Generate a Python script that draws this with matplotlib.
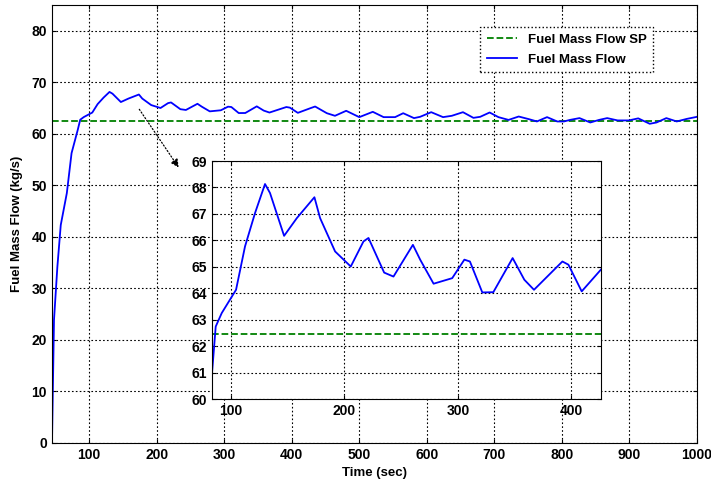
import matplotlib.pyplot as plt

plt.rcParams['font.family'] = ['Liberation Sans', 'DejaVu Sans']
plt.rcParams['font.weight'] = 'bold'

# time (sec) and fuel mass flow (kg/s)
time = [45, 48, 53, 58, 67, 74, 83.3, 86.8, 92.1, 104.7, 112.6, 121.4, 130.2,
        134.6, 147, 158.2, 173.7, 178.7, 191.9, 205.7, 216.9, 221.3, 235.1,
        243.3, 260.4, 266.8, 278.6, 295, 305.7, 310.6, 321.5, 331.2, 348.2,
        358.5, 367, 392, 397.3, 409, 427.5, 434.6, 452, 464, 480.6, 500, 520,
        536, 553, 565, 581, 590, 606.5, 624, 637, 653.5, 669, 679, 693, 706,
        721, 736, 751, 763, 778, 793, 803, 812, 826, 842, 855, 867, 882.5,
        899, 913, 930, 940, 954.6, 970, 985, 1000]
flow = [0, 23.9, 34.2, 42.3, 48.5, 56.25, 60.84, 62.74, 63.25, 64.13, 65.77,
        67.03, 68.13, 67.79, 66.17, 66.84, 67.63, 66.84, 65.58, 65.01, 65.96,
        66.09, 64.78, 64.63, 65.83, 65.27, 64.36, 64.57, 65.27, 65.2, 64.03,
        64.04, 65.33, 64.51, 64.13, 65.2, 65.08, 64.07, 64.97, 65.3, 64.0,
        63.5, 64.47, 63.24, 64.27, 63.24, 63.24, 64.0, 63.05, 63.3, 64.2,
        63.24, 63.5, 64.2, 63.1, 63.3, 64.14, 63.24, 62.7, 63.36, 62.85, 62.4,
        63.24, 62.4, 62.4, 62.7, 63.05, 62.2, 62.7, 63.05, 62.6, 62.6, 63.0,
        61.95, 62.2, 63.05, 62.4, 62.9, 63.3]
setpoint = 62.45

main_xticks = [100, 200, 300, 400, 500, 600, 700, 800, 900, 1000]
main_yticks = [0, 10, 20, 30, 40, 50, 60, 70, 80]
inset_xticks = [100, 200, 300, 400]
inset_yticks = [60, 61, 62, 63, 64, 65, 66, 67, 68, 69]

blue = (0, 0, 1)
green = (0, 0.5, 0)

fig = plt.figure(figsize=(7.11, 4.86), dpi=100)
ax = fig.add_axes([0.0731, 0.0885, 0.9072, 0.9012])

ax.axhline(setpoint, color=green, ls='--', lw=1.3, label='Fuel Mass Flow SP')
ax.plot(time, flow, color=blue, lw=1.3, label='Fuel Mass Flow')
ax.set_xlim(45, 1000)
ax.set_ylim(0, 85)
ax.set_xticks(main_xticks)
ax.set_yticks(main_yticks)
ax.grid(True, color='black', ls=(0, (1.5, 2)), lw=0.8)
ax.tick_params(direction='in', top=True, right=True, length=3, labelsize=10)
for lab in ax.get_xticklabels() + ax.get_yticklabels():
    lab.set_fontweight('bold')
ax.set_xlabel('Time (sec)', fontsize=9.5, fontweight='bold', labelpad=4)
ax.set_ylabel('Fuel Mass Flow (kg/s)', fontsize=9.5, fontweight='bold', labelpad=6)

leg = ax.legend(loc='upper right', bbox_to_anchor=(0.932, 0.95), fontsize=9.5,
                fancybox=False, framealpha=1, edgecolor='black',
                handlelength=2.3, borderpad=0.5, labelspacing=0.6,
                borderaxespad=0)
leg.get_frame().set_linestyle(':')
leg.get_frame().set_linewidth(1.0)
for t in leg.get_texts():
    t.set_fontweight('bold')

# arrow pointing to the zoomed view
ax.annotate('', xy=(235, 53), xytext=(172, 65.2),
            arrowprops=dict(arrowstyle='-|>', ls=':', lw=0.9, color='black',
                            mutation_scale=12))

# inset
axi = fig.add_axes([0.2978, 0.179, 0.5475, 0.4897])
axi.axhline(setpoint, color=green, ls='--', lw=1.3)
axi.plot(time, flow, color=blue, lw=1.3)
axi.set_xlim(83.3, 426)
axi.set_ylim(60, 69)
axi.set_xticks(inset_xticks)
axi.set_yticks(inset_yticks)
axi.grid(True, color='black', ls=(0, (1.5, 2)), lw=0.8)
axi.tick_params(direction='in', top=True, right=True, length=3, labelsize=10)
for lab in axi.get_xticklabels() + axi.get_yticklabels():
    lab.set_fontweight('bold')

fig.savefig('out.png', dpi=100)
